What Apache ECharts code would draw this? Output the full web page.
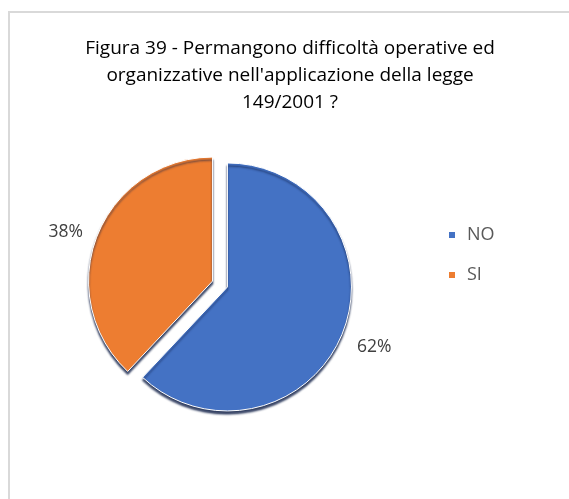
<!DOCTYPE html>
<html>
<head>
<meta charset="utf-8">
<script src="https://cdn.jsdelivr.net/npm/echarts@6/dist/echarts.min.js"></script>
<style>
  html, body { margin: 0; padding: 0; background: #ffffff; }
  #chart { width: 569px; height: 499px; }
</style>
</head>
<body>
<div id="chart"></div>
<script>
// Survey answers and their shares (percent)
const categories = ['NO', 'SI'];
const shares = [62, 38];
const sliceColors = ['#4472C4', '#ED7D31'];
const titleLines = [
  'Figura 39 - Permangono difficoltà operative ed',
  "organizzative nell'applicazione della legge",
  '149/2001 ?'
];

const chart = echarts.init(document.getElementById('chart'), null, { renderer: 'canvas' });

const pieData = categories.map((name, i) => ({
  name: name,
  value: shares[i],
  selected: true,
  itemStyle: { color: sliceColors[i] }
}));

chart.setOption({
  backgroundColor: '#ffffff',
  animation: false,
  color: sliceColors,
  title: {
    text: titleLines.join('\n'),
    left: 290,
    top: 35,
    padding: 0,
    textAlign: 'center',
    textStyle: {
      fontFamily: 'Open Sans',
      fontSize: 19,
      fontWeight: 'normal',
      color: '#000000',
      lineHeight: 27
    }
  },
  legend: {
    orient: 'vertical',
    left: 447,
    top: 226,
    padding: 0,
    icon: 'rect',
    itemWidth: 8,
    itemHeight: 8,
    itemGap: 22,
    selectedMode: false,
    data: categories,
    textStyle: {
      fontFamily: 'Open Sans',
      fontSize: 18,
      color: '#595959',
      padding: [0, 0, 0, 6]
    }
  },
  graphic: [{
    type: 'rect',
    silent: true,
    shape: { x: 9, y: 12, width: 700, height: 700 },
    style: { fill: 'none', stroke: '#d9d9d9', lineWidth: 2 }
  }],
  series: [{
    type: 'pie',
    center: [220, 284],
    radius: 124,
    startAngle: 90,
    clockwise: true,
    selectedMode: 'multiple',
    selectedOffset: 8,
    data: pieData,
    itemStyle: {
      borderColor: '#ffffff',
      borderWidth: 1,
      shadowColor: 'rgba(15, 30, 70, 0.85)',
      shadowBlur: 2,
      shadowOffsetY: 3
    },
    select: {
      itemStyle: {
        borderColor: '#ffffff',
        borderWidth: 1
      }
    },
    emphasis: { disabled: true },
    label: {
      show: true,
      position: 'outside',
      formatter: '{c}%',
      fontFamily: 'Open Sans',
      fontSize: 17.5,
      color: '#404040'
    },
    labelLine: { show: false, length: 10, length2: 0 },
    // the large slice's label sits a bit lower beside the slice
    labelLayout: function (params) {
      return params.dataIndex === 0 ? { dy: 11 } : {};
    }
  }]
});
</script>
</body>
</html>
